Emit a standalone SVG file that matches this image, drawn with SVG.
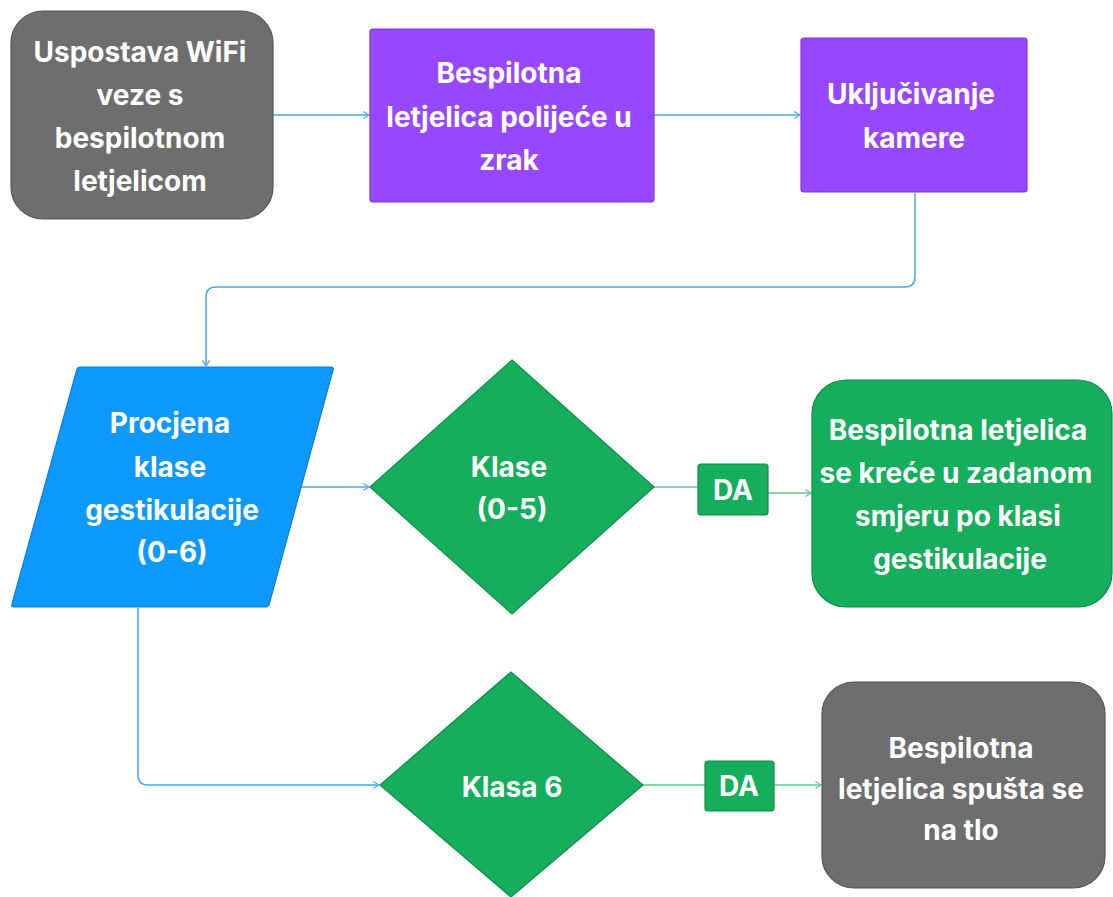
<svg xmlns="http://www.w3.org/2000/svg" width="1113" height="897" viewBox="0 0 1113 897">
<defs>
<style>
.t{font-family:Inter,"Liberation Sans",sans-serif;font-weight:700;font-size:28px;fill:#ffffff;text-anchor:middle}
.gray{fill:#6e6e6e;stroke:#565656;stroke-width:1.2}
.purple{fill:#9747ff;stroke:#7d38dc;stroke-width:1.2}
.blue{fill:#0d99ff;stroke:#0a7fd8;stroke-width:1.2}
.green{fill:#14ae5c;stroke:#0f8d4a;stroke-width:1.2}
.cb{fill:none;stroke:#45a8f5;stroke-width:1.5}
.cg{fill:none;stroke:#5fc98e;stroke-width:1.5}
</style>
<marker id="ab" viewBox="0 0 10 12" refX="9" refY="6" markerWidth="7" markerHeight="9" markerUnits="userSpaceOnUse" orient="auto">
<path d="M1,1 L9,6 L1,11" fill="none" stroke="#45a8f5" stroke-width="1.6"/>
</marker>
<marker id="ag" viewBox="0 0 10 12" refX="9" refY="6" markerWidth="7" markerHeight="9" markerUnits="userSpaceOnUse" orient="auto">
<path d="M1,1 L9,6 L1,11" fill="none" stroke="#5fc98e" stroke-width="1.6"/>
</marker>
</defs>
<rect width="1113" height="897" fill="#ffffff"/>
<g id="connectors">
<path class="cb" d="M273 115 H369" marker-end="url(#ab)"/>
<path class="cb" d="M654 115 H800" marker-end="url(#ab)"/>
<path class="cb" d="M915 193 V277 Q915 287 905 287 H216 Q206 287 206 297 V366" marker-end="url(#ab)"/>
<path class="cb" d="M301 487 H369" marker-end="url(#ab)"/>
<path class="cb" d="M138 608 V775 Q138 785 148 785 H379" marker-end="url(#ab)"/>
<path class="cg" d="M654 487 H698"/>
<path class="cg" d="M768 493 H811" marker-end="url(#ag)"/>
<path class="cg" d="M643 785 H705"/>
<path class="cg" d="M774 785 H821" marker-end="url(#ag)"/>
</g>
<g id="n1">
<rect class="gray" x="11" y="11" width="262" height="208" rx="32"/>
<text class="t" x="140" y="62">Uspostava WiFi</text>
<text class="t" x="140" y="105">veze s</text>
<text class="t" x="140" y="148">bespilotnom</text>
<text class="t" x="140" y="191">letjelicom</text>
</g>
<g id="n2">
<rect class="purple" x="370" y="29" width="284" height="173" rx="3"/>
<text class="t" x="509" y="83">Bespilotna</text>
<text class="t" x="509" y="127">letjelica polijeće u</text>
<text class="t" x="509" y="170">zrak</text>
</g>
<g id="n3">
<rect class="purple" x="801" y="38" width="226" height="154" rx="3"/>
<text class="t" x="911" y="104">Uključivanje</text>
<text class="t" x="914" y="148">kamere</text>
</g>
<g id="n4">
<path class="blue" d="M80 367 H331 Q334 367 333 370 L269 605 Q268 607 266 607 H14 Q11 607 12 604 L77 369 Q78 367 80 367 Z"/>
<text class="t" x="170" y="433">Procjena</text>
<text class="t" x="170" y="477">klase</text>
<text class="t" x="172" y="520">gestikulacije</text>
<text class="t" x="172" y="562">(0-6)</text>
</g>
<g id="n5">
<path class="green" d="M512 360 L654 487 L512 614 L370 487 Z"/>
<text class="t" x="509" y="477">Klase</text>
<text class="t" x="512" y="519">(0-5)</text>
</g>
<g id="l1">
<rect class="green" x="698" y="464" width="70" height="51" rx="3"/>
<text class="t" x="733" y="500">DA</text>
</g>
<g id="n6">
<rect class="green" x="812" y="380" width="300" height="227" rx="34"/>
<text class="t" x="958" y="440">Bespilotna letjelica</text>
<text class="t" x="956" y="483">se kreće u zadanom</text>
<text class="t" x="958" y="526">smjeru po klasi</text>
<text class="t" x="960" y="569">gestikulacije</text>
</g>
<g id="n7">
<path class="green" d="M511 672 L643 785 L511 897 L380 785 Z"/>
<text class="t" x="512" y="797">Klasa 6</text>
</g>
<g id="l2">
<rect class="green" x="705" y="761" width="69" height="50" rx="3"/>
<text class="t" x="739" y="796">DA</text>
</g>
<g id="n8">
<rect class="gray" x="822" y="682" width="283" height="206" rx="32"/>
<text class="t" x="961" y="758">Bespilotna</text>
<text class="t" x="961" y="799">letjelica spušta se</text>
<text class="t" x="961" y="840">na tlo</text>
</g>
</svg>
